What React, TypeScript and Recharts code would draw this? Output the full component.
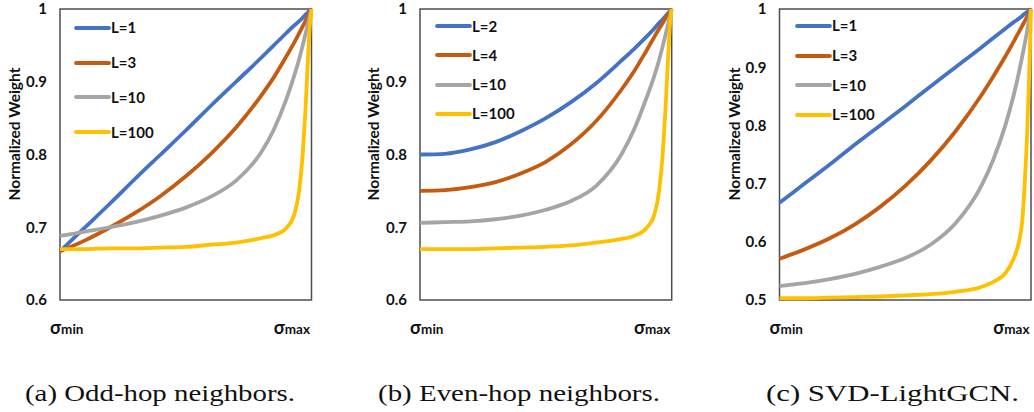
import { LineChart, Line, XAxis, YAxis, Legend, ReferenceArea, Label } from 'recharts'

// σ positions shared by every curve (0 = σmin, 1 = σmax), denser near σmax
const SIGMA = [0, 0.1, 0.2, 0.3, 0.4, 0.5, 0.6, 0.7, 0.8, 0.85, 0.9, 0.93, 0.95, 0.965, 0.975, 0.985, 0.993, 1]

// (a) odd-hop neighbors
const ODD_LABELS = ['L=1', 'L=3', 'L=10', 'L=100']
const oddL1 = [0.667, 0.7, 0.733, 0.767, 0.8, 0.833, 0.867, 0.9, 0.933, 0.95, 0.967, 0.977, 0.983, 0.988, 0.992, 0.995, 0.998, 1]
const oddL3 = [0.667, 0.682, 0.7, 0.72, 0.743, 0.77, 0.801, 0.837, 0.881, 0.906, 0.935, 0.953, 0.966, 0.976, 0.983, 0.99, 0.995, 1]
const oddL10 = [0.688, 0.694, 0.7, 0.707, 0.716, 0.727, 0.742, 0.764, 0.803, 0.834, 0.876, 0.907, 0.93, 0.95, 0.964, 0.978, 0.99, 1]
const oddL100 = [0.67, 0.67, 0.671, 0.671, 0.672, 0.673, 0.676, 0.679, 0.685, 0.689, 0.699, 0.716, 0.748, 0.8, 0.855, 0.925, 0.975, 1]

// (b) even-hop neighbors
const EVEN_LABELS = ['L=2', 'L=4', 'L=10', 'L=100']
const evenL2 = [0.8, 0.801, 0.807, 0.817, 0.832, 0.85, 0.872, 0.898, 0.929, 0.945, 0.962, 0.973, 0.981, 0.986, 0.99, 0.994, 0.997, 1]
const evenL4 = [0.75, 0.751, 0.755, 0.762, 0.774, 0.79, 0.814, 0.846, 0.889, 0.914, 0.943, 0.961, 0.973, 0.981, 0.987, 0.992, 0.996, 1]
const evenL10 = [0.706, 0.707, 0.708, 0.711, 0.716, 0.724, 0.736, 0.757, 0.8, 0.834, 0.878, 0.907, 0.93, 0.95, 0.964, 0.978, 0.99, 1]
const evenL100 = [0.67, 0.67, 0.67, 0.671, 0.672, 0.673, 0.675, 0.679, 0.684, 0.688, 0.699, 0.716, 0.75, 0.805, 0.86, 0.928, 0.978, 1]

// (c) SVD-LightGCN
const SVD_LABELS = ['L=1', 'L=3', 'L=10', 'L=100']
const svdL1 = [0.667, 0.7, 0.733, 0.767, 0.8, 0.833, 0.867, 0.9, 0.933, 0.95, 0.967, 0.977, 0.983, 0.988, 0.992, 0.995, 0.998, 1]
const svdL3 = [0.571, 0.587, 0.606, 0.63, 0.66, 0.696, 0.739, 0.79, 0.85, 0.884, 0.92, 0.943, 0.959, 0.971, 0.979, 0.987, 0.994, 1]
const svdL10 = [0.524, 0.529, 0.536, 0.545, 0.557, 0.572, 0.595, 0.632, 0.694, 0.741, 0.803, 0.85, 0.887, 0.918, 0.94, 0.963, 0.983, 1]
const svdL100 = [0.503, 0.503, 0.504, 0.505, 0.506, 0.508, 0.51, 0.514, 0.522, 0.531, 0.547, 0.57, 0.596, 0.635, 0.7, 0.79, 0.89, 1]

const TICKS_06 = [0.6, 0.7, 0.8, 0.9, 1]
const TICKS_05 = [0.5, 0.6, 0.7, 0.8, 0.9, 1]
const SIGMA_TICKS = [0, 1]

const CAPTIONS = ['(a) Odd-hop neighbors.', '(b) Even-hop neighbors.', '(c) SVD-LightGCN.']

const COLORS = ['#4472C4', '#C55A11', '#A5A5A5', '#FFC000']
const FONT = 'Lato, "Open Sans", sans-serif'
const SERIF = '"Liberation Serif", "Times New Roman", serif'
const INK = '#111'

const HEIGHT = 350

function buildRows(series: number[][]) {
  return SIGMA.map((t, i) => {
    const row: Record<string, number> = { t }
    series.forEach((s, k) => {
      row['s' + k] = s[i]
    })
    return row
  })
}

function SigmaTick(props: any) {
  const { x, y, payload } = props
  const isMin = payload.value === 0
  return (
    <text
      x={isMin ? x - 10 : x - 1.5}
      y={y + 34}
      textAnchor={isMin ? 'start' : 'end'}
      fontFamily={FONT}
      fontWeight={700}
      fill={INK}
    >
      <tspan fontSize={18}>σ</tspan>
      <tspan fontSize={13.5}>{isMin ? 'min' : 'max'}</tspan>
    </text>
  )
}

// legend drawn from the series names so the order stays L small -> L large
const legendContent = (labels: string[], rowH: number) => () => (
  <div>
    {labels.map((name, k) => (
      <div key={name} style={{ display: 'flex', alignItems: 'center', height: rowH }}>
        <svg width={37} height={6} style={{ display: 'block' }}>
          <line x1={2} y1={3} x2={35} y2={3} stroke={COLORS[k]} strokeWidth={3.8} strokeLinecap="round" />
        </svg>
        <span style={{ fontFamily: FONT, fontWeight: 700, fontSize: 15, color: INK, lineHeight: 1 }}>{name}</span>
      </div>
    ))}
  </div>
)

interface PanelProps {
  left: number
  width: number
  marginLeft: number
  marginRight: number
  labels: string[]
  series: number[][]
  yMin: number
  yTicks: number[]
  titleX: number
  legendLeft: number
  legendTop: number
  legendRow: number
}

function Panel(p: PanelProps) {
  const rows = buildRows(p.series)
  return (
    <div style={{ position: 'absolute', left: p.left, top: 0 }}>
      <LineChart
        width={p.width}
        height={HEIGHT}
        data={rows}
        margin={{ top: 9, right: p.marginRight, bottom: 10, left: p.marginLeft }}
      >
        <XAxis
          dataKey="t"
          type="number"
          domain={[0, 1]}
          ticks={SIGMA_TICKS}
          tick={<SigmaTick />}
          axisLine={false}
          tickLine={false}
          tickSize={0}
          tickMargin={0}
          height={40}
          interval={0}
        />
        <YAxis
          type="number"
          domain={[p.yMin, 1]}
          ticks={p.yTicks}
          width={40}
          axisLine={false}
          tickLine={false}
          tickSize={6}
          tickMargin={7}
          interval={0}
          tick={{ fontSize: 15, fontWeight: 700, fill: INK, fontFamily: FONT }}
        >
          <Label
            content={() => (
              <text
                x={p.titleX}
                y={134}
                transform={`rotate(-90 ${p.titleX} 134)`}
                textAnchor="middle"
                dominantBaseline="central"
                fontFamily={FONT}
                fontWeight={700}
                fontSize={15.5}
                fill={INK}
              >
                Normalized Weight
              </text>
            )}
          />
        </YAxis>
        <ReferenceArea x1={0} x2={1} y1={p.yMin} y2={1} fill="none" stroke="#4d4d4d" strokeWidth={1.5} />
        <Legend
          layout="vertical"
          align="center"
          verticalAlign="middle"
          content={legendContent(p.labels, p.legendRow)}
          wrapperStyle={{ left: p.legendLeft, top: p.legendTop, width: 'auto', height: 'auto' }}
        />
        {p.labels.map((name, k) => (
          <Line
            key={name}
            name={name}
            dataKey={'s' + k}
            type="monotone"
            stroke={COLORS[k]}
            strokeWidth={3.8}
            dot={false}
            activeDot={false}
            isAnimationActive={false}
          />
        ))}
      </LineChart>
    </div>
  )
}

export default function App() {
  return (
    <div style={{ position: 'absolute', left: 0, top: 0, width: 1034, height: 412, background: '#fff', overflow: 'hidden' }}>
      <Panel
        left={0}
        width={330}
        marginLeft={20}
        marginRight={18.5}
        labels={ODD_LABELS}
        series={[oddL1, oddL3, oddL10, oddL100]}
        yMin={0.6}
        yTicks={TICKS_06}
        titleX={14}
        legendLeft={74}
        legendTop={10.6}
        legendRow={34.7}
      />
      <Panel
        left={340}
        width={350}
        marginLeft={40}
        marginRight={18.3}
        labels={EVEN_LABELS}
        series={[evenL2, evenL4, evenL10, evenL100]}
        yMin={0.6}
        yTicks={TICKS_06}
        titleX={33}
        legendLeft={95}
        legendTop={11.4}
        legendRow={29.3}
      />
      <Panel
        left={690}
        width={344}
        marginLeft={49.5}
        marginRight={3}
        labels={SVD_LABELS}
        series={[svdL1, svdL3, svdL10, svdL100]}
        yMin={0.5}
        yTicks={TICKS_05}
        titleX={43.5}
        legendLeft={105}
        legendTop={11.2}
        legendRow={29.6}
      />
      <svg width={1034} height={412} style={{ position: 'absolute', left: 0, top: 0, pointerEvents: 'none' }}>
        <text x={25} y={401} textLength={270} lengthAdjust="spacingAndGlyphs" fontFamily={SERIF} fontSize={24} fill={INK}>
          {CAPTIONS[0]}
        </text>
        <text x={378} y={401} textLength={282} lengthAdjust="spacingAndGlyphs" fontFamily={SERIF} fontSize={24} fill={INK}>
          {CAPTIONS[1]}
        </text>
        <text x={766} y={401} textLength={253} lengthAdjust="spacingAndGlyphs" fontFamily={SERIF} fontSize={24} fill={INK}>
          {CAPTIONS[2]}
        </text>
      </svg>
    </div>
  )
}
